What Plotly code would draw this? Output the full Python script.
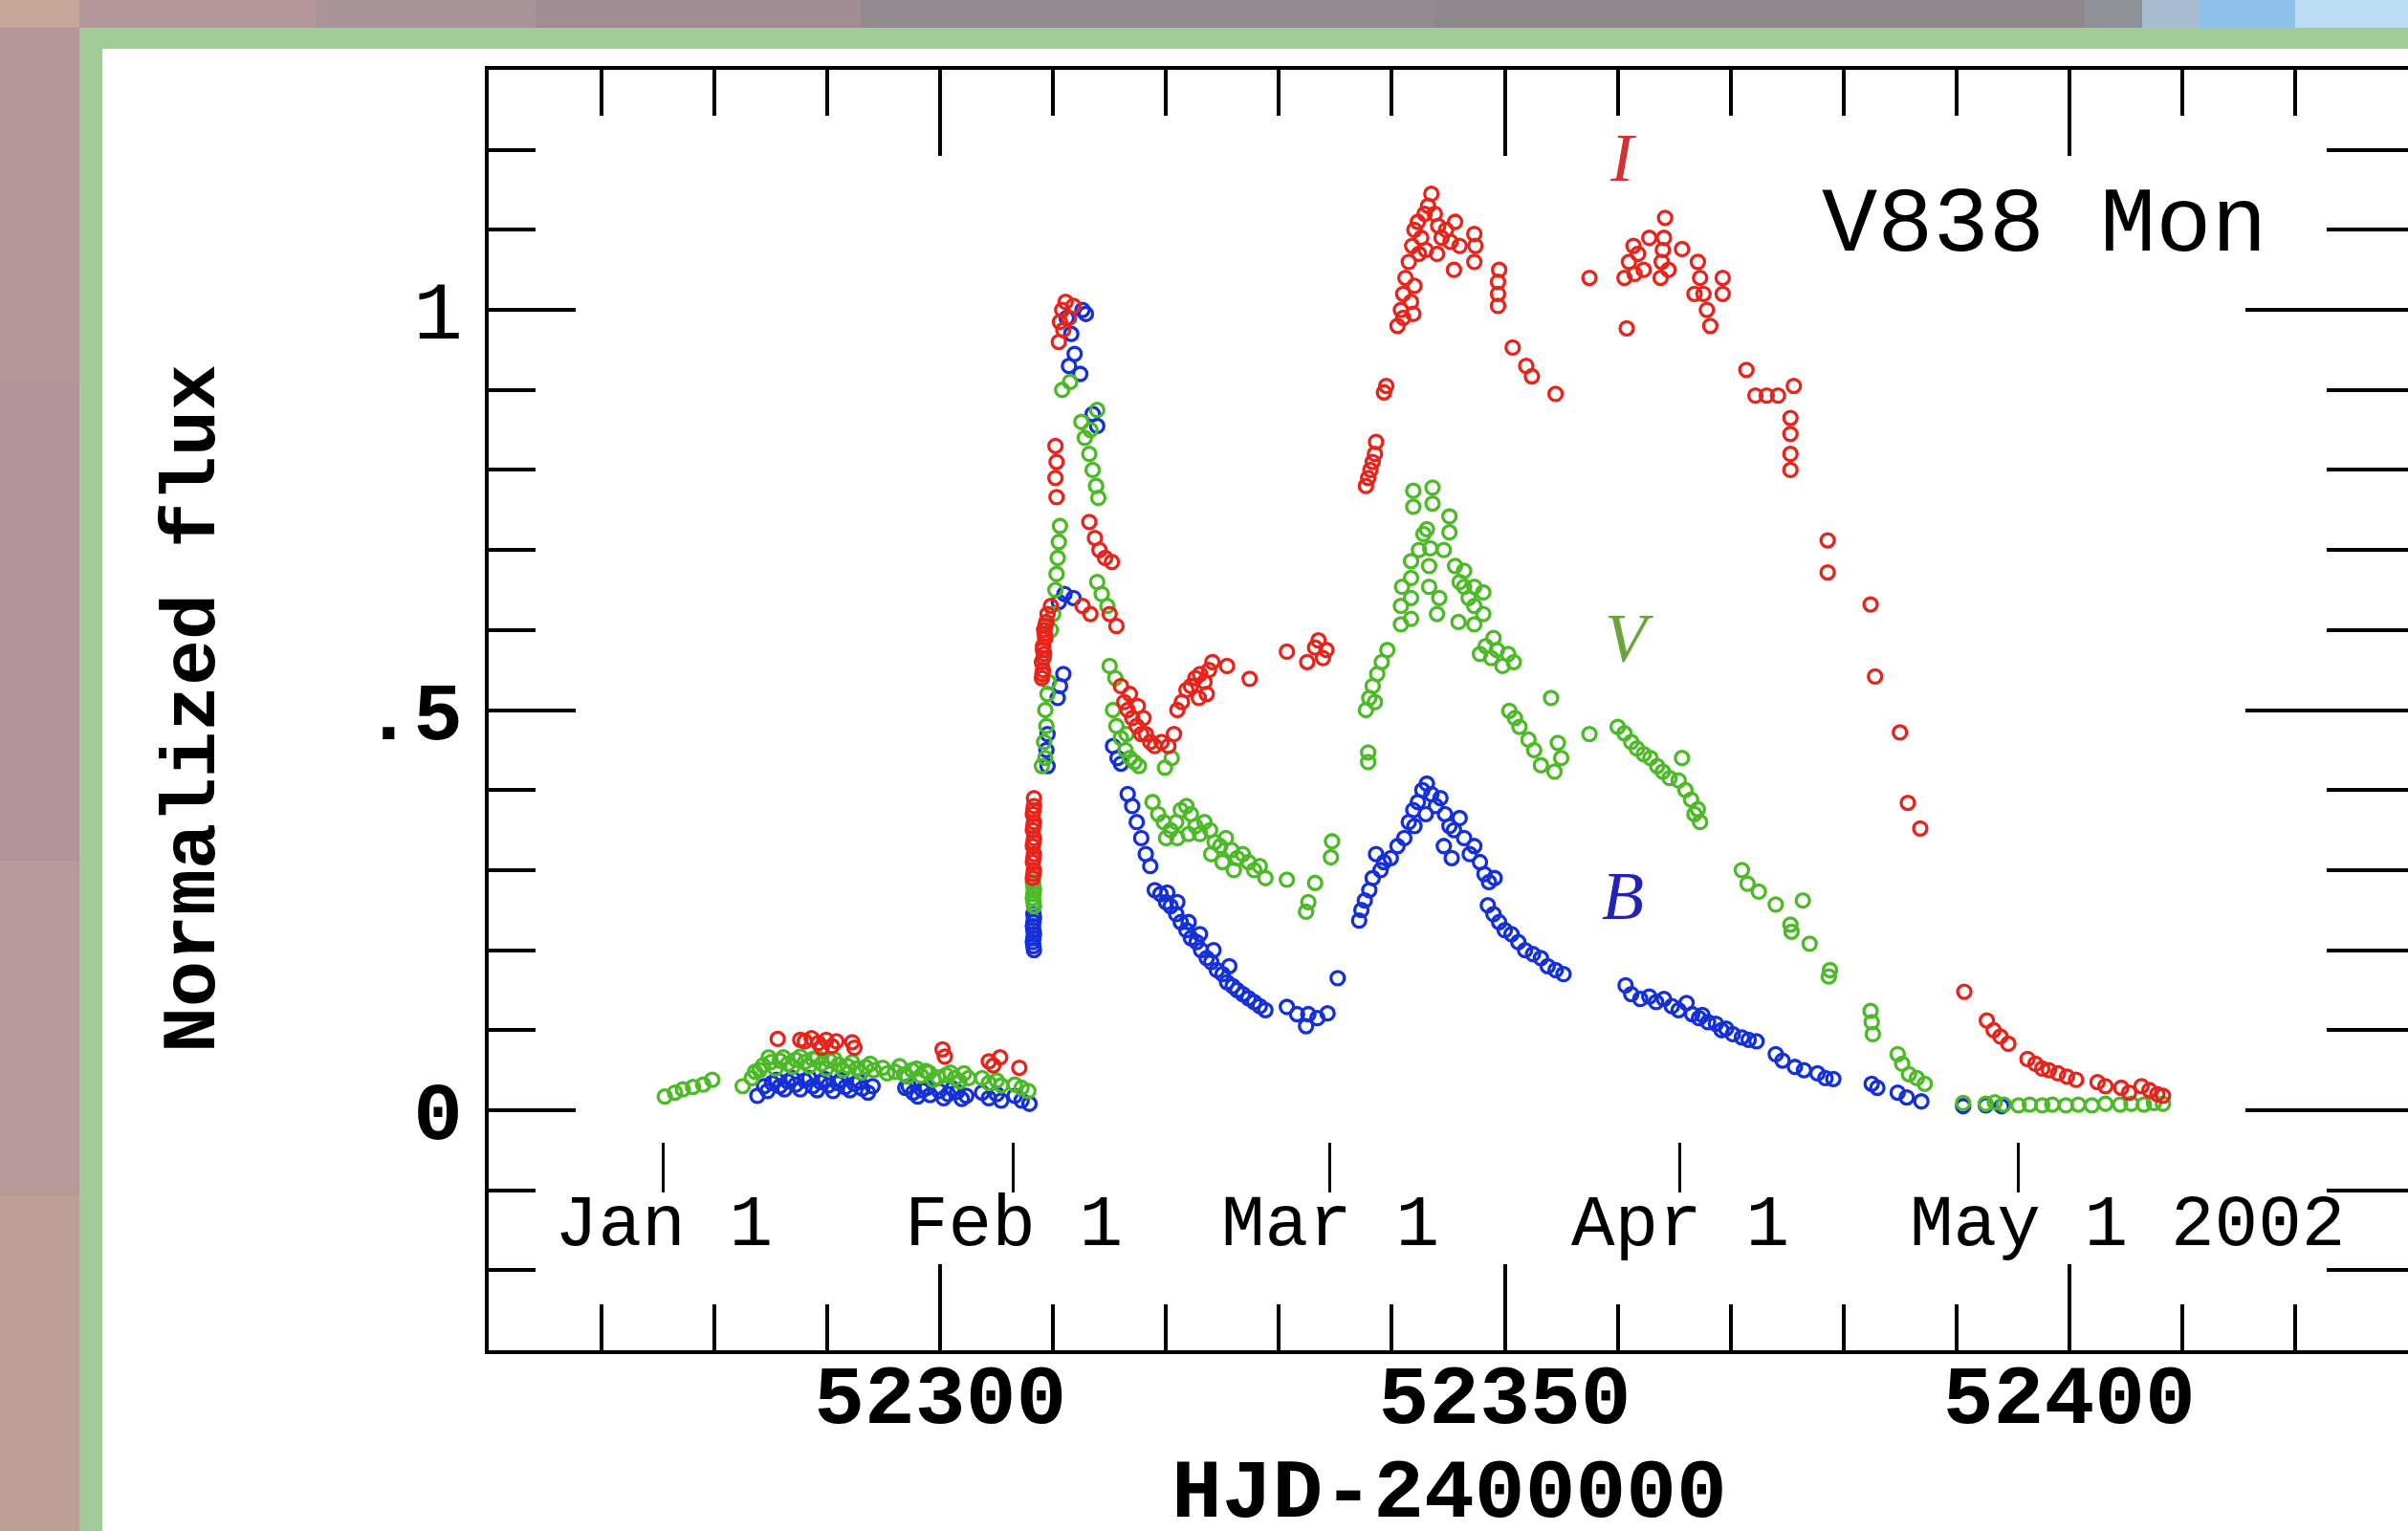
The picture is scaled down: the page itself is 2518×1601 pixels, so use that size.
import plotly.graph_objects as go

# ---------------- data (HJD-2400000, normalized flux) ----------------
I_obs = [
    (52285.6, 0.089), (52287.6, 0.088), (52288.0, 0.086), (52288.6, 0.090), (52289.2, 0.084),
    (52289.5, 0.078), (52289.9, 0.088), (52290.4, 0.080), (52290.8, 0.086), (52292.2, 0.085),
    (52292.4, 0.078), (52300.2, 0.076), (52300.4, 0.067), (52304.3, 0.061), (52304.7, 0.056),
    (52305.3, 0.066), (52307.0, 0.053),
    (52308.2, 0.290), (52308.3, 0.300), (52308.2, 0.310), (52308.3, 0.320), (52308.2, 0.330),
    (52308.3, 0.340), (52308.2, 0.350), (52308.3, 0.360), (52308.2, 0.370), (52308.3, 0.380),
    (52308.3, 0.390), (52308.25, 0.295), (52308.25, 0.315), (52308.25, 0.335), (52308.25, 0.355),
    (52308.25, 0.375),
    (52309.0, 0.540), (52309.1, 0.550), (52309.0, 0.560), (52309.2, 0.570), (52309.1, 0.580),
    (52309.3, 0.590), (52309.2, 0.600), (52309.4, 0.610), (52309.5, 0.620), (52309.8, 0.630),
    (52309.05, 0.545), (52309.15, 0.565), (52309.1, 0.575), (52309.25, 0.595), (52309.3, 0.605),
    (52310.3, 0.766), (52310.2, 0.790), (52310.3, 0.810), (52310.2, 0.830),
    (52310.5, 0.960), (52310.6, 0.985), (52310.8, 1.000), (52311.1, 1.010), (52311.4, 0.990),
    (52311.8, 1.005), (52310.9, 0.975),
    (52312.6, 0.630), (52313.3, 0.620),
    (52313.2, 0.735), (52313.7, 0.715), (52314.1, 0.700), (52314.6, 0.690), (52315.2, 0.685),
    (52315.0, 0.620), (52315.6, 0.605),
    (52316.0, 0.530), (52316.3, 0.510), (52316.6, 0.500), (52316.8, 0.520), (52317.0, 0.490),
    (52317.4, 0.480), (52317.5, 0.505), (52317.8, 0.470), (52318.0, 0.490), (52318.2, 0.470),
    (52318.6, 0.460), (52319.0, 0.455), (52319.6, 0.460), (52320.2, 0.455), (52320.7, 0.470),
    (52321.0, 0.500), (52321.4, 0.510), (52321.8, 0.525), (52322.2, 0.530), (52322.6, 0.540),
    (52322.9, 0.515), (52323.0, 0.545), (52323.4, 0.535), (52323.6, 0.520), (52323.8, 0.550),
    (52324.1, 0.560), (52325.4, 0.555), (52327.4, 0.539),
    (52330.7, 0.573), (52332.5, 0.560), (52333.2, 0.578), (52333.5, 0.587), (52333.9, 0.565),
    (52334.2, 0.575),
    (52337.7, 0.780), (52337.9, 0.790), (52338.1, 0.800), (52338.3, 0.810), (52338.5, 0.820),
    (52338.6, 0.835), (52339.3, 0.897), (52339.5, 0.905),
    (52340.5, 0.980), (52340.8, 1.000), (52341.0, 1.020), (52341.2, 1.040), (52341.0, 0.990),
    (52341.5, 1.060), (52341.7, 1.010), (52341.8, 1.080), (52341.9, 0.995), (52342.0, 1.100),
    (52342.0, 1.030), (52342.3, 1.110), (52342.4, 1.070), (52342.6, 1.090), (52342.9, 1.120),
    (52343.0, 1.075), (52343.2, 1.130), (52343.5, 1.145), (52343.8, 1.120), (52344.0, 1.070),
    (52344.1, 1.105), (52344.4, 1.090), (52344.8, 1.100), (52345.2, 1.085), (52345.5, 1.050),
    (52345.6, 1.110), (52346.0, 1.080),
    (52347.3, 1.060), (52347.4, 1.080), (52347.3, 1.095), (52349.4, 1.005), (52349.4, 1.020),
    (52349.4, 1.035), (52349.5, 1.050), (52350.7, 0.953), (52351.9, 0.930), (52352.4, 0.917),
    (52354.5, 0.895),
    (52357.5, 1.040), (52360.8, 0.977), (52360.6, 1.040), (52361.0, 1.060), (52361.4, 1.080),
    (52361.5, 1.045), (52361.8, 1.070), (52362.3, 1.050), (52362.8, 1.090), (52363.8, 1.040),
    (52363.9, 1.060), (52364.0, 1.075), (52364.1, 1.090), (52364.2, 1.115), (52364.5, 1.050),
    (52365.7, 1.076), (52366.8, 1.020), (52367.1, 1.060), (52367.3, 1.040), (52367.6, 1.020),
    (52367.9, 1.000), (52368.2, 0.980), (52369.3, 1.020), (52369.3, 1.040),
    (52371.4, 0.925), (52372.2, 0.893), (52373.2, 0.893), (52374.2, 0.893), (52375.6, 0.905),
    (52375.3, 0.865), (52375.3, 0.845), (52375.3, 0.820), (52375.3, 0.800),
    (52378.6, 0.712), (52378.6, 0.672), (52382.4, 0.632), (52382.8, 0.542), (52385.0, 0.472),
    (52385.7, 0.384), (52386.8, 0.352),
    (52390.7, 0.148), (52392.7, 0.112), (52393.3, 0.100), (52393.9, 0.092), (52394.6, 0.083),
    (52396.3, 0.064), (52397.0, 0.058), (52397.6, 0.052), (52398.2, 0.050), (52399.0, 0.046),
    (52399.8, 0.042), (52400.6, 0.038), (52402.5, 0.035), (52403.2, 0.030), (52404.6, 0.028),
    (52405.3, 0.022), (52406.4, 0.030), (52407.1, 0.025), (52407.8, 0.020), (52408.3, 0.018),
]

V_obs = [
    (52275.6, 0.017), (52276.5, 0.022), (52277.2, 0.026), (52278.1, 0.029), (52279.0, 0.032),
    (52279.8, 0.038),
    (52282.5, 0.030), (52283.3, 0.040), (52283.6, 0.048), (52284.3, 0.056), (52285.0, 0.060),
    (52285.8, 0.062), (52286.5, 0.058), (52287.2, 0.063), (52288.0, 0.060), (52288.7, 0.064),
    (52289.5, 0.058), (52290.2, 0.062), (52291.0, 0.057), (52291.8, 0.055), (52292.6, 0.052),
    (52293.4, 0.054), (52294.1, 0.050), (52294.9, 0.053), (52296.0, 0.048), (52296.8, 0.045),
    (52297.5, 0.050), (52298.3, 0.043), (52299.0, 0.047), (52299.8, 0.041), (52300.5, 0.044),
    (52301.3, 0.040), (52302.1, 0.046), (52303.7, 0.040), (52304.3, 0.034), (52305.0, 0.037),
    (52305.4, 0.031), (52306.6, 0.032), (52307.2, 0.028), (52307.8, 0.024),
    (52284.0, 0.050), (52284.8, 0.066), (52285.4, 0.052), (52286.1, 0.066), (52286.9, 0.054),
    (52287.6, 0.067), (52288.4, 0.055), (52289.1, 0.066), (52289.9, 0.052), (52290.6, 0.064),
    (52291.4, 0.050), (52292.2, 0.060), (52293.0, 0.047), (52293.8, 0.058), (52295.3, 0.046),
    (52296.4, 0.055), (52297.1, 0.042), (52297.9, 0.052), (52298.7, 0.049), (52299.4, 0.038),
    (52300.9, 0.047), (52301.7, 0.036), (52302.5, 0.040),
    (52308.3, 0.255), (52308.2, 0.265), (52308.3, 0.275), (52308.2, 0.285),
    (52308.25, 0.260), (52308.25, 0.270), (52308.25, 0.280),
    (52309.0, 0.430), (52309.3, 0.440), (52309.2, 0.460), (52309.4, 0.480), (52309.3, 0.500),
    (52309.5, 0.520), (52309.6, 0.535),
    (52309.8, 0.600), (52310.0, 0.620), (52310.2, 0.650), (52310.3, 0.670), (52310.4, 0.690),
    (52310.5, 0.710), (52310.6, 0.730),
    (52310.8, 0.900), (52311.5, 0.910), (52312.5, 0.860), (52312.8, 0.840), (52313.2, 0.820),
    (52313.3, 0.850), (52313.5, 0.800), (52313.8, 0.780), (52313.9, 0.875), (52314.0, 0.765),
    (52313.9, 0.660), (52314.3, 0.645), (52314.8, 0.630), (52315.0, 0.555), (52315.5, 0.540),
    (52315.3, 0.500), (52315.6, 0.480), (52316.0, 0.465), (52316.4, 0.450), (52316.5, 0.470),
    (52316.8, 0.440), (52317.2, 0.435), (52317.6, 0.430), (52319.9, 0.428), (52320.5, 0.440),
    (52318.8, 0.385), (52319.3, 0.370), (52319.8, 0.360), (52320.0, 0.340), (52320.4, 0.350),
    (52320.9, 0.360), (52321.0, 0.340), (52321.3, 0.375), (52321.8, 0.380), (52322.0, 0.345),
    (52322.2, 0.370), (52322.6, 0.355), (52323.0, 0.345), (52323.4, 0.360), (52323.9, 0.350),
    (52324.0, 0.320), (52324.3, 0.335), (52324.8, 0.330), (52325.0, 0.310), (52325.3, 0.340),
    (52325.8, 0.325), (52326.0, 0.300), (52326.3, 0.315), (52326.8, 0.320), (52327.3, 0.310),
    (52327.8, 0.300), (52328.3, 0.305), (52328.8, 0.290),
    (52330.7, 0.288), (52332.4, 0.248), (52332.6, 0.260), (52333.2, 0.284), (52334.6, 0.316),
    (52334.7, 0.336),
    (52337.9, 0.447), (52337.9, 0.435), (52337.7, 0.500), (52338.0, 0.515), (52338.3, 0.530),
    (52338.5, 0.510), (52338.7, 0.545), (52339.1, 0.560), (52339.6, 0.575),
    (52340.8, 0.607), (52340.8, 0.630), (52340.9, 0.654), (52341.7, 0.614), (52341.7, 0.640),
    (52341.7, 0.665), (52341.7, 0.686), (52341.9, 0.754), (52341.9, 0.774), (52342.4, 0.700),
    (52342.8, 0.720), (52343.1, 0.726), (52343.3, 0.654), (52343.3, 0.680), (52343.4, 0.702),
    (52343.6, 0.758), (52343.6, 0.778), (52344.0, 0.620), (52344.2, 0.640), (52344.6, 0.700),
    (52345.1, 0.742), (52345.1, 0.722), (52345.6, 0.680), (52345.9, 0.610), (52346.0, 0.660),
    (52346.4, 0.654), (52346.4, 0.674), (52346.8, 0.640), (52347.3, 0.607), (52347.3, 0.630),
    (52347.3, 0.654), (52348.1, 0.647), (52348.1, 0.620),
    (52347.8, 0.570), (52348.3, 0.580), (52348.8, 0.565), (52349.0, 0.590), (52349.3, 0.575),
    (52349.8, 0.555), (52350.3, 0.570), (52350.8, 0.560),
    (52350.4, 0.499), (52350.9, 0.490), (52351.3, 0.479), (52352.1, 0.463), (52352.6, 0.450),
    (52353.2, 0.431), (52354.1, 0.515), (52354.4, 0.423), (52354.7, 0.459), (52355.0, 0.440),
    (52357.5, 0.470),
    (52360.0, 0.479), (52360.6, 0.471), (52361.2, 0.460), (52361.7, 0.452), (52362.3, 0.445),
    (52362.9, 0.440), (52363.5, 0.430), (52364.0, 0.423), (52364.6, 0.415), (52365.4, 0.412),
    (52365.7, 0.440), (52366.0, 0.400), (52366.5, 0.388), (52366.8, 0.370), (52367.1, 0.376),
    (52367.3, 0.360),
    (52371.0, 0.300), (52371.5, 0.283), (52372.5, 0.273), (52374.0, 0.257), (52375.3, 0.232),
    (52375.4, 0.223), (52376.4, 0.262), (52377.0, 0.208), (52378.7, 0.167), (52378.8, 0.175),
    (52382.4, 0.124), (52382.5, 0.110), (52382.6, 0.095), (52384.8, 0.070), (52385.2, 0.058),
    (52385.8, 0.045), (52386.5, 0.040), (52387.2, 0.033),
    (52390.6, 0.009), (52392.6, 0.008), (52393.4, 0.010), (52394.2, 0.007), (52395.5, 0.006),
    (52396.5, 0.007), (52397.6, 0.006), (52398.5, 0.007), (52399.7, 0.006), (52400.8, 0.007),
    (52402.0, 0.006), (52403.2, 0.008), (52404.5, 0.007), (52405.5, 0.008), (52406.6, 0.007),
    (52407.5, 0.009), (52408.3, 0.008),
]

B_obs = [
    (52283.8, 0.018), (52284.4, 0.030), (52285.1, 0.034), (52285.8, 0.030), (52286.5, 0.036),
    (52287.2, 0.032), (52288.0, 0.037), (52288.7, 0.030), (52289.4, 0.035), (52290.1, 0.031),
    (52290.9, 0.034), (52291.6, 0.029), (52292.4, 0.033), (52293.1, 0.027), (52294.0, 0.030),
    (52296.9, 0.028), (52297.6, 0.022), (52298.4, 0.025), (52299.1, 0.019), (52299.9, 0.024),
    (52300.7, 0.020), (52301.5, 0.023), (52302.3, 0.018), (52303.7, 0.022), (52304.3, 0.015),
    (52305.0, 0.020), (52305.4, 0.012), (52306.6, 0.018), (52307.2, 0.012), (52307.9, 0.008),
    (52284.7, 0.024), (52285.5, 0.038), (52286.2, 0.026), (52286.9, 0.040), (52287.6, 0.026),
    (52288.4, 0.040), (52289.1, 0.025), (52289.8, 0.039), (52290.5, 0.024), (52291.2, 0.038),
    (52292.0, 0.025), (52292.8, 0.036), (52293.6, 0.022), (52297.2, 0.030), (52298.0, 0.017),
    (52298.8, 0.028), (52300.3, 0.015), (52301.1, 0.027), (52301.9, 0.014),
    (52308.3, 0.200), (52308.2, 0.210), (52308.3, 0.220), (52308.2, 0.230), (52308.3, 0.240),
    (52308.25, 0.205), (52308.25, 0.215), (52308.25, 0.225), (52308.25, 0.235), (52308.25, 0.245),
    (52309.5, 0.430), (52309.4, 0.450), (52309.5, 0.470), (52310.4, 0.515), (52310.6, 0.530),
    (52310.9, 0.545),
    (52310.5, 0.635), (52311.0, 0.645), (52311.8, 0.640),
    (52311.2, 0.990), (52311.4, 0.930), (52311.6, 0.970), (52311.9, 0.945), (52312.4, 0.920),
    (52312.6, 1.000), (52312.9, 0.995),
    (52313.5, 0.870), (52313.9, 0.855),
    (52315.3, 0.455), (52315.7, 0.440), (52316.0, 0.433),
    (52316.6, 0.395), (52317.0, 0.380), (52317.4, 0.360), (52317.8, 0.340), (52318.2, 0.320),
    (52318.6, 0.305),
    (52319.0, 0.275), (52319.5, 0.270), (52320.0, 0.260), (52320.1, 0.272), (52320.4, 0.255),
    (52320.9, 0.245), (52321.0, 0.260), (52321.3, 0.235), (52321.8, 0.225), (52322.0, 0.235),
    (52322.2, 0.215), (52322.7, 0.210), (52323.0, 0.220), (52323.1, 0.200), (52323.6, 0.190),
    (52324.0, 0.185), (52324.2, 0.200), (52324.5, 0.175), (52325.0, 0.170), (52325.4, 0.160),
    (52325.6, 0.180), (52325.9, 0.155), (52326.3, 0.150), (52326.8, 0.145), (52327.3, 0.140),
    (52327.8, 0.135), (52328.3, 0.130), (52328.8, 0.125),
    (52330.7, 0.129), (52331.6, 0.120), (52332.4, 0.105), (52332.6, 0.120), (52333.4, 0.115),
    (52334.3, 0.121), (52335.2, 0.165),
    (52337.1, 0.237), (52337.3, 0.250), (52337.6, 0.262), (52338.0, 0.275), (52338.3, 0.290),
    (52338.6, 0.320), (52339.0, 0.300), (52339.3, 0.310), (52339.9, 0.315), (52340.5, 0.330),
    (52341.1, 0.340), (52341.5, 0.360), (52341.9, 0.375), (52342.0, 0.355), (52342.3, 0.385),
    (52342.7, 0.400), (52343.0, 0.370), (52343.1, 0.408), (52343.5, 0.395), (52343.9, 0.380),
    (52344.3, 0.390), (52344.6, 0.330), (52344.7, 0.370), (52345.1, 0.355), (52345.3, 0.315),
    (52345.5, 0.350), (52346.0, 0.365), (52346.4, 0.340), (52346.9, 0.320), (52347.3, 0.330),
    (52347.8, 0.310), (52348.2, 0.295), (52348.6, 0.285), (52349.1, 0.290),
    (52348.5, 0.256), (52349.0, 0.245), (52349.5, 0.235), (52350.0, 0.225), (52350.6, 0.220),
    (52351.2, 0.210), (52351.8, 0.200), (52352.5, 0.195), (52353.2, 0.190), (52353.8, 0.180),
    (52354.5, 0.175), (52355.2, 0.170),
    (52360.7, 0.156), (52361.2, 0.145), (52362.0, 0.139), (52362.8, 0.142), (52363.4, 0.135),
    (52364.1, 0.139), (52364.8, 0.130), (52365.4, 0.125), (52366.1, 0.134), (52366.6, 0.120),
    (52367.2, 0.115), (52367.5, 0.119), (52368.0, 0.110), (52368.7, 0.108), (52369.2, 0.100),
    (52369.6, 0.102), (52370.2, 0.095), (52371.0, 0.091), (52371.6, 0.088), (52372.3, 0.086),
    (52374.0, 0.070), (52374.6, 0.062), (52375.7, 0.054), (52376.5, 0.050), (52377.7, 0.046),
    (52378.4, 0.040), (52379.1, 0.039), (52382.5, 0.033), (52383.0, 0.028), (52384.8, 0.022),
    (52385.6, 0.016), (52386.9, 0.011), (52390.6, 0.005), (52392.6, 0.006), (52394.0, 0.005),
]

x_range = [52260, 52430]
y_range = [-0.3, 1.3]
x_major_ticks = [52300, 52350, 52400]
x_major_labels = ["52300", "52350", "52400"]
y_major_ticks = [0, 0.5, 1]
y_major_labels = ["<b>0</b>", "<b>.5</b>", "1"]
date_ticks = [52275.5, 52306.5, 52334.5, 52365.5, 52395.5]   # Jan 1 ... May 1, 2002
date_labels = ["Jan 1", "Feb 1", "Mar 1", "Apr 1", "May 1"]
year_label = "2002"
star_name = "V838 Mon"

# ---------------- styling ----------------
W, H = 2518, 1601
L, R, T, B = 511, 0, 73, 189
MONO = "Liberation Mono"
SERIF = "Liberation Serif"
col_I, col_V, col_B = "#e8231a", "#4cba26", "#1430d8"


def px(xp):
    return (xp - L) / (W - L - R)


def py(yp):
    return (H - B - yp) / (H - T - B)


fig = go.Figure()
for name, obs, col in [("B", B_obs, col_B), ("V", V_obs, col_V), ("I", I_obs, col_I)]:
    fig.add_trace(go.Scatter(
        x=[t for t, f in obs], y=[f for t, f in obs], mode="markers", name=name,
        marker=dict(symbol="circle-open", size=14, color=col, line=dict(width=3.3, color=col)),
        showlegend=False, hoverinfo="skip"))

# empty traces so the inner date axis and the right axis are drawn
fig.add_trace(go.Scatter(x=[], y=[], xaxis="x3", yaxis="y", showlegend=False, hoverinfo="skip"))
fig.add_trace(go.Scatter(x=[], y=[], xaxis="x", yaxis="y2", showlegend=False, hoverinfo="skip"))

# decorative frame bands (outside the plot area)
shapes = []
top_band = [(0, 83, "#c6a697"), (83, 330, "#b3979a"), (330, 560, "#a99499"), (560, 900, "#9f8d93"),
            (900, 1500, "#938a8f"), (1500, 2180, "#8e878c"), (2180, 2240, "#909098"),
            (2240, 2300, "#a8bccf"), (2300, 2400, "#8ec1ea"), (2400, 2518, "#bcdcf6")]
for x0, x1, c in top_band:
    shapes.append(dict(type="rect", xref="paper", yref="paper", x0=px(x0), x1=px(x1),
                       y0=py(29), y1=py(0), fillcolor=c, line=dict(width=0), layer="below"))
left_band = [(29, 400, "#b49598"), (400, 900, "#b0939a"), (900, 1250, "#b8999a"), (1250, 1601, "#bd9f98")]
for y0, y1, c in left_band:
    shapes.append(dict(type="rect", xref="paper", yref="paper", x0=px(0), x1=px(83),
                       y0=py(y1), y1=py(y0), fillcolor=c, line=dict(width=0), layer="below"))
shapes.append(dict(type="rect", xref="paper", yref="paper", x0=px(83), x1=px(W),
                   y0=py(51), y1=py(29), fillcolor="#a2cb98", line=dict(width=0), layer="below"))
shapes.append(dict(type="rect", xref="paper", yref="paper", x0=px(83), x1=px(107),
                   y0=py(H), y1=py(29), fillcolor="#a2cb98", line=dict(width=0), layer="below"))

tick_style = dict(ticks="inside", tickcolor="black", tickwidth=3.5, showgrid=False, zeroline=False)

annotations = [
    dict(text=star_name.replace(" ", "\u00a0"), x=px(2138), y=py(236), xref="paper", yref="paper",
         showarrow=False, xanchor="center", yanchor="middle",
         font=dict(family=MONO, size=97, color="black")),
    dict(text="<i>I</i>", x=52360.5, y=1.19, xref="x", yref="y", showarrow=False,
         font=dict(family=SERIF, size=72, color="#d23232")),
    dict(text="<i>V</i>", x=52361.0, y=0.59, xref="x", yref="y", showarrow=False,
         font=dict(family=SERIF, size=72, color="#6aa43c")),
    dict(text="<i>B</i>", x=52360.5, y=0.268, xref="x", yref="y", showarrow=False,
         font=dict(family=SERIF, size=72, color="#2222b4")),
    dict(text=year_label, x=px(2361), y=py(1282), xref="paper", yref="paper",
         showarrow=False, xanchor="center", yanchor="middle",
         font=dict(family=MONO, size=76, color="black")),
    dict(text="<b>Normalized\u00a0flux</b>", x=px(202), y=py(741), xref="paper", yref="paper",
         showarrow=False, textangle=-90, xanchor="center", yanchor="middle",
         font=dict(family=MONO, size=80, color="black")),
    dict(text="<b>HJD-2400000</b>", x=px(1515), y=py(1562), xref="paper", yref="paper",
         showarrow=False, xanchor="center", yanchor="middle",
         font=dict(family=MONO, size=88, color="black")),
]
# calendar date labels beneath the inner date ticks
for t, lab in zip(date_ticks, date_labels):
    annotations.append(dict(text=lab.replace(" ", "\u00a0"), x=t, y=py(1282), xref="x", yref="paper",
                            showarrow=False, xanchor="center", yanchor="middle",
                            font=dict(family=MONO, size=76, color="black")))

fig.update_layout(
    width=W, height=H, autosize=False,
    margin=dict(l=L, r=R, t=T, b=B, pad=0),
    paper_bgcolor="white", plot_bgcolor="white",
    template="none",
    shapes=shapes,
    xaxis=dict(range=x_range, tickmode="array", tickvals=x_major_ticks, ticktext=x_major_labels,
               ticklen=90, showline=True, linecolor="black", linewidth=4, mirror="ticks",
               tickfont=dict(family=MONO, size=88, color="black", weight="bold"),
               ticklabelstandoff=-34,
               minor=dict(ticks="inside", ticklen=48, tickwidth=3.5, tickcolor="black",
                          tickmode="linear", tick0=52300, dtick=10),
               **tick_style),
    yaxis=dict(range=y_range, tickmode="array", tickvals=y_major_ticks, ticktext=y_major_labels,
               ticklen=91, showline=True, linecolor="black", linewidth=4, mirror=False,
               tickfont=dict(family=MONO, size=86, color="black"),
               ticklabelstandoff=6,
               minor=dict(ticks="inside", ticklen=49, tickwidth=3.5, tickcolor="black",
                          tickmode="linear", tick0=0, dtick=0.1),
               **tick_style),
    yaxis2=dict(overlaying="y", side="right", anchor="x", range=y_range,
                tickmode="array", tickvals=y_major_ticks, showticklabels=False,
                ticklen=170, showline=True, linecolor="black", linewidth=4,
                minor=dict(ticks="inside", ticklen=85, tickwidth=3.5, tickcolor="black",
                           tickmode="linear", tick0=0, dtick=0.1),
                **tick_style),
    xaxis3=dict(overlaying="x", anchor="free", position=py(1247), side="bottom",
                range=x_range, tickmode="array", tickvals=date_ticks, showticklabels=False,
                ticks="inside", ticklen=52, tickwidth=3, tickcolor="black",
                showline=False, showgrid=False, zeroline=False),
    annotations=annotations,
)

fig.write_html("out.html", config={"displayModeBar": False},
               post_script="document.body.style.margin='0px';document.body.style.overflow='hidden';")
